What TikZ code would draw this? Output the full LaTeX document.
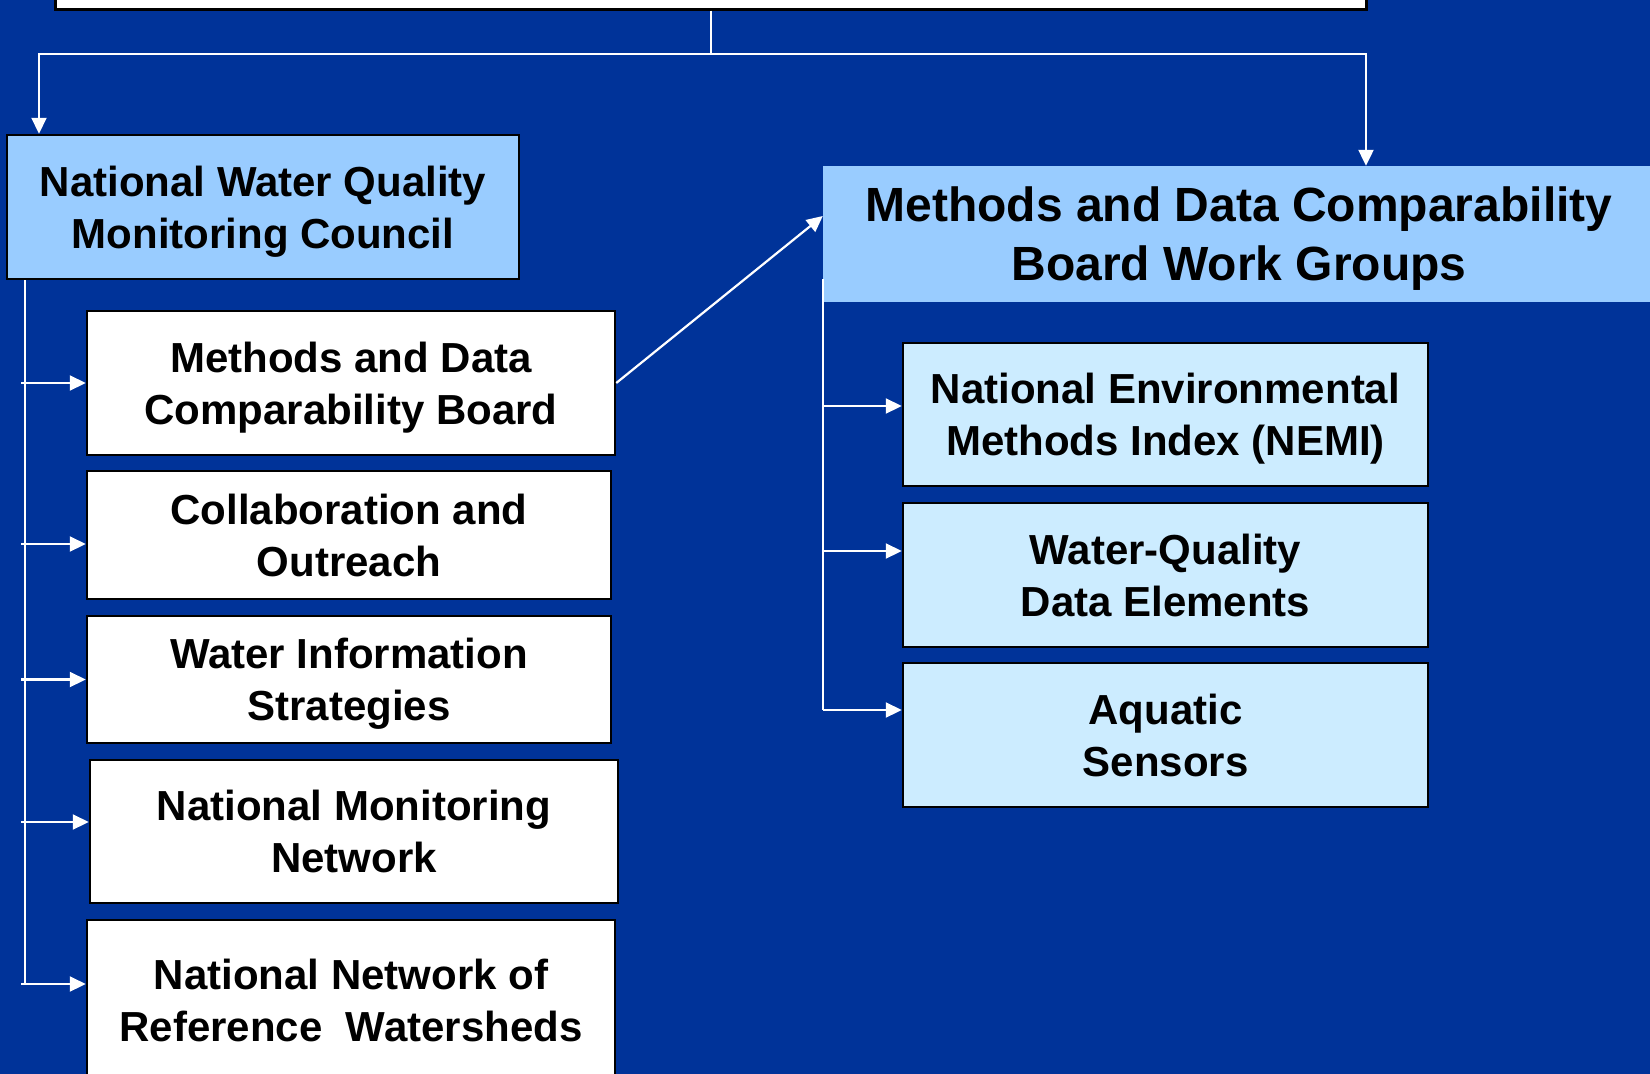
\documentclass[tikz,border=0pt]{standalone}
\usepackage{fontspec}
\setmainfont{Liberation Sans}
\usetikzlibrary{arrows.meta}
\definecolor{bg}{RGB}{0,51,153}
\definecolor{lblue}{RGB}{153,204,255}
\definecolor{pblue}{RGB}{204,236,255}
\begin{document}
\begin{tikzpicture}[x=1pt,y=-1pt,
  txt/.style={font=\bfseries\fontsize{42pt}{51.6pt}\selectfont, text=black, align=center, inner sep=0pt, text depth=0pt},
  wbox/.style={txt, draw=black, line width=2.5pt, fill=white},
  cbox/.style={txt, draw=black, line width=2.5pt, fill=lblue},
  rbox/.style={txt, draw=black, line width=2.5pt, fill=pblue},
  hbox/.style={font=\bfseries\fontsize{48pt}{59pt}\selectfont, text=black, align=center, inner sep=0pt, fill=lblue, text depth=0pt},
  wline/.style={draw=white, line width=2.2pt},
  arr/.style={wline, -{Triangle[length=16pt,width=15pt]}},
  arrb/.style={wline, line join=miter, {Triangle[length=16pt,width=15pt]}-{Triangle[length=16pt,width=15pt]}}
]
\useasboundingbox (0,0) rectangle (1650,1074);
\clip (0,0) rectangle (1650,1074);
\fill[bg] (0,0) rectangle (1650,1074);

% boxes
\node[draw=black, line width=3pt, fill=white, minimum width=1311pt, minimum height=60pt, inner sep=0pt] (top) at (710.5,-21) {};
\node[cbox, minimum width=512pt, minimum height=144pt] (nwqmc) at (263,207) {National Water Quality\\Monitoring Council};
\node[hbox, minimum width=832pt, minimum height=136pt] (wg) at (1239,234) {Methods and Data Comparability\\Board Work Groups};

\node[wbox, minimum width=528pt, minimum height=144pt] (b1) at (351,383) {Methods and Data\\Comparability Board};
\node[wbox, minimum width=524pt, minimum height=128pt] (b2) at (349,535) {Collaboration and\\Outreach};
\node[wbox, minimum width=524pt, minimum height=127pt] (b3) at (349,679.5) {Water Information\\Strategies};
\node[wbox, minimum width=528pt, minimum height=143pt] (b4) at (354,831.5) {National Monitoring\\Network};
\node[wbox, minimum width=528pt, minimum height=160pt] (b5) at (351,1000) {National Network of\\Reference \ Watersheds};

\node[rbox, minimum width=525pt, minimum height=143pt] (r1) at (1165.5,414.5) {National Environmental\\Methods Index (NEMI)};
\node[rbox, minimum width=525pt, minimum height=144pt] (r2) at (1165.5,575) {Water-Quality\\Data Elements};
\node[rbox, minimum width=525pt, minimum height=144pt] (r3) at (1165.5,735) {Aquatic\\Sensors};

% helper coordinates
\coordinate (hl) at (39,54);
\coordinate (hr) at (1366,54);
\coordinate (L) at (21,0);
\coordinate (LT) at (25,0);
\coordinate (R) at (823,0);
\coordinate (a1) at (b1.west);
\coordinate (a2) at ([yshift=-9pt]b2.west);
\coordinate (a3) at (b3.west);
\coordinate (a4) at ([yshift=9.5pt]b4.west);
\coordinate (a5) at ([yshift=16pt]b5.west);
\coordinate (c1) at ([yshift=8.5pt]r1.west);
\coordinate (c2) at ([yshift=24pt]r2.west);
\coordinate (c3) at ([yshift=25pt]r3.west);
\coordinate (rs) at ([yshift=23pt]wg.south west);

% top connectors
\draw[wline] (top.south -| 711,0) -- (hl -| 711,0);
\draw[arrb] (hl |- nwqmc.north) -- (hl) -- (hr) -- (hr |- wg.north);

% left trunk
\draw[wline] (LT |- nwqmc.south) -- (LT |- a5);
\foreach \a in {a1,a2,a3,a4,a5} {\draw[arr] (L |- \a) -- (\a);}

% diagonal
\draw[arr] (b1.east) -- ([yshift=18pt]wg.west);

% right trunk
\draw[wline] (rs) -- (rs |- c3);
\foreach \c in {c1,c2,c3} {\draw[arr] (R |- \c) -- (\c);}
\end{tikzpicture}
\end{document}
